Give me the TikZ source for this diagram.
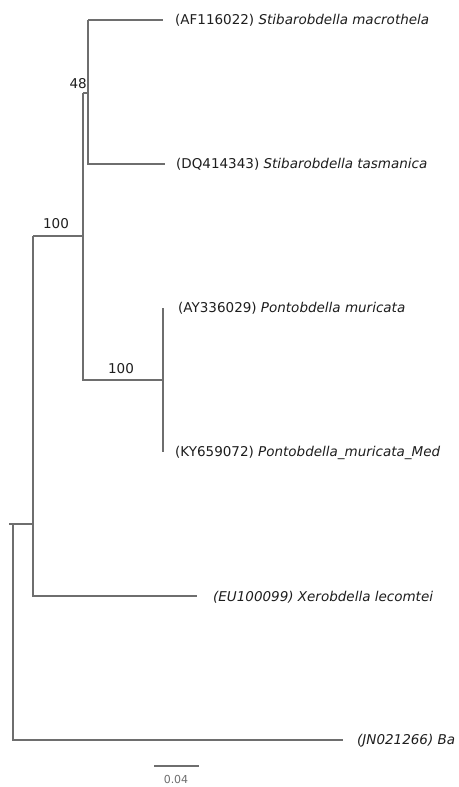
\documentclass[tikz,border=0pt]{standalone}
\usepackage{fontspec}
\setmainfont{DejaVu Sans}
\definecolor{branch}{RGB}{110,110,110}
\definecolor{labtext}{RGB}{30,30,30}
\begin{document}
\begin{tikzpicture}[x=1pt,y=-1pt,
  br/.style={draw=branch,line width=1.1pt},
  leaf/.style={anchor=west,inner sep=0pt,text=labtext,font=\fontsize{13.5}{15}\selectfont},
  boot/.style={inner sep=0pt,text=labtext,font=\fontsize{13.5}{15}\selectfont}]
\useasboundingbox[fill=white] (0,0) rectangle (458,787);
% internal nodes
\coordinate (rootstub) at (9,524);
\coordinate (root) at (13,524);
\coordinate (rootB) at (13,740);
\coordinate (ing) at (33,524);
\coordinate (ingT) at (33,236);
\coordinate (ingB) at (33,596);
\coordinate (A) at (83,236);
\coordinate (AT) at (83,93);
\coordinate (AB) at (83,380);
\coordinate (B) at (88,93);
\coordinate (BT) at (88,20);
\coordinate (BB) at (88,164);
\coordinate (C) at (163,380);
\coordinate (CT) at (163,308);
\coordinate (CB) at (163,452);
% leaf ends
\coordinate (l1) at (163,20);
\coordinate (l2) at (165,164);
\coordinate (l5) at (197,596);
\coordinate (l6) at (343,740);
% branches
\draw[br] (rootstub) -- (root) -- (ing);
\draw[br] (root) -- (rootB) -- (l6);
\draw[br] (ingT) -- (ingB) -- (l5);
\draw[br] (ingT) -- (A);
\draw[br] (AT) -- (AB) -- (C);
\draw[br] (AT) -- (B);
\draw[br] (BT) -- (BB) -- (l2);
\draw[br] (BT) -- (l1);
\draw[br] (CT) -- (CB);
% labels
\node[leaf] (t1) at (175,20) {(AF116022) \textit{Stibarobdella macrothela}};
\node[leaf] (t2) at (176,164) {(DQ414343) \textit{Stibarobdella tasmanica}};
\node[leaf] (t3) at (178,308) {(AY336029) \textit{Pontobdella muricata}};
\node[leaf] (t4) at (175,453) {(KY659072) \textit{Pontobdella\_muricata\_Med}};
\node[leaf] (t5) at (213,597) {\textit{(EU100099) Xerobdella lecomtei}};
\node[leaf] (t6) at (357,741) {\textit{(JN021266) Ba}};
% bootstrap
\node[boot,anchor=east] (b48) at (87,84) {48};
\node[boot] (b100a) at (56,224) {100};
\node[boot] (b100b) at (121,369) {100};
% scale bar
\coordinate (s1) at (154,766);
\coordinate (s2) at (199,766);
\draw[br] (s1) -- (s2);
\node[boot,text=branch,font=\fontsize{11}{12}\selectfont] (sc) at (176,779) {0.04};
\end{tikzpicture}
\end{document}
